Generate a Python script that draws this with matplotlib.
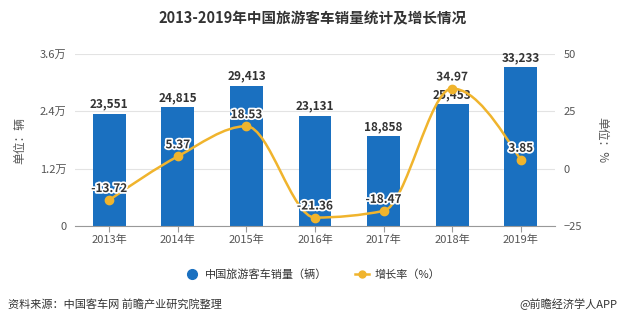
import matplotlib.pyplot as plt
import matplotlib.patheffects as pe
from matplotlib.path import Path
from matplotlib.patches import PathPatch
from matplotlib.lines import Line2D
import numpy as np

plt.rcParams['font.family'] = ['Noto Sans CJK SC', 'DejaVu Sans']

# data
years = ["2013年", "2014年", "2015年", "2016年", "2017年", "2018年", "2019年"]
sales = [23551, 24815, 29413, 23131, 18858, 25453, 33233]
growth = [-13.72, 5.37, 18.53, -21.36, -18.47, 34.97, 3.85]

bar_color = "#1a70c0"
line_color = "#f0b42d"
text_color = "#333333"
tick_color = "#555555"

fig = plt.figure(figsize=(6.25, 3.26), dpi=100)
ax = fig.add_axes([0.12, 0.307, 0.768, 0.527])
ax2 = ax.twinx()

x = np.arange(len(years))
ax.bar(x, sales, width=0.48, color=bar_color, zorder=2)
ax.set_xlim(-0.5, len(years) - 0.5)
ax.set_ylim(0, 36000)
ax.set_yticks([0, 12000, 24000, 36000])
ax.set_yticklabels(["0", "1.2万", "2.4万", "3.6万"])
ax.set_xticks(x)
ax.set_xticklabels(years)
ax.grid(axis="y", color="#e3e3e3", linewidth=0.8, zorder=0)
ax.set_axisbelow(True)

for s in ["top", "right", "left"]:
    ax.spines[s].set_visible(False)
    ax2.spines[s].set_visible(False)
ax2.spines["bottom"].set_visible(False)
ax.spines["bottom"].set_color("#999999")
ax.tick_params(axis="x", colors="#999999", length=4, labelcolor=tick_color, labelsize=8, pad=2)
ax.tick_params(axis="y", length=0, labelcolor=tick_color, labelsize=8, pad=6)
ax2.tick_params(axis="y", length=0, labelcolor=tick_color, labelsize=8, pad=6)

ax2.set_ylim(-25, 50)
ax2.set_yticks([-25, 0, 25, 50])

ax.set_ylabel("单位：辆", color=tick_color, fontsize=8.5, labelpad=10)
ax2.set_ylabel("单位：%", color=tick_color, fontsize=8.5, rotation=-90, labelpad=19)

# bar labels
for xi, v in zip(x, sales):
    ax.text(xi, v + 600, f"{v:,}", ha="center", va="bottom", fontsize=8.5,
            fontweight="bold", color=text_color, zorder=5)

# monotone cubic curve through the points
g = np.array(growth)
sl = np.diff(g)
tan = np.zeros(len(g))
for i in range(1, len(g) - 1):
    s0, s1 = sl[i - 1], sl[i]
    p = (s0 + s1) / 2
    tan[i] = (np.sign(s0) + np.sign(s1)) * min(abs(s0), abs(s1), 0.5 * abs(p))
tan[0] = (3 * sl[0] - tan[1]) / 2
tan[-1] = (3 * sl[-1] - tan[-2]) / 2
verts = [(x[0], g[0])]
codes = [Path.MOVETO]
for i in range(len(g) - 1):
    verts += [(x[i] + 1 / 3, g[i] + tan[i] / 3),
              (x[i + 1] - 1 / 3, g[i + 1] - tan[i + 1] / 3),
              (x[i + 1], g[i + 1])]
    codes += [Path.CURVE4] * 3
ax2.add_patch(PathPatch(Path(verts, codes), facecolor="none", edgecolor=line_color,
                        linewidth=1.8, zorder=3))
ax2.plot(x, growth, "o", color=line_color, markersize=6, zorder=4)

for xi, gv in zip(x, growth):
    ax2.text(xi, gv + 2.2, f"{gv:.2f}", ha="center", va="bottom", fontsize=8.5,
             fontweight="bold", color=text_color, zorder=6,
             path_effects=[pe.withStroke(linewidth=2.5, foreground="white")])

# title
fig.text(0.5, 0.945, "2013-2019年中国旅游客车销量统计及增长情况", ha="center", va="center",
         fontsize=10.5, fontweight="bold", color=text_color)

# legend
handles = [
    Line2D([], [], marker="o", linestyle="none", color=bar_color, markersize=7),
    Line2D([], [], marker="o", color=line_color, markersize=5, linewidth=1.8),
]
fig.legend(handles, ["中国旅游客车销量（辆）", "增长率（%）"], loc="center",
           bbox_to_anchor=(0.5, 0.157), ncol=2, frameon=False, fontsize=8,
           handlelength=1.3, columnspacing=2.5, handletextpad=0.5, labelcolor=text_color)

fig.text(0.013, 0.065, "资料来源：中国客车网 前瞻产业研究院整理", ha="left", va="center",
         fontsize=8, color=text_color)
fig.text(0.987, 0.065, "@前瞻经济学人APP", ha="right", va="center",
         fontsize=8, color=text_color)

fig.savefig("out.png", dpi=100)
